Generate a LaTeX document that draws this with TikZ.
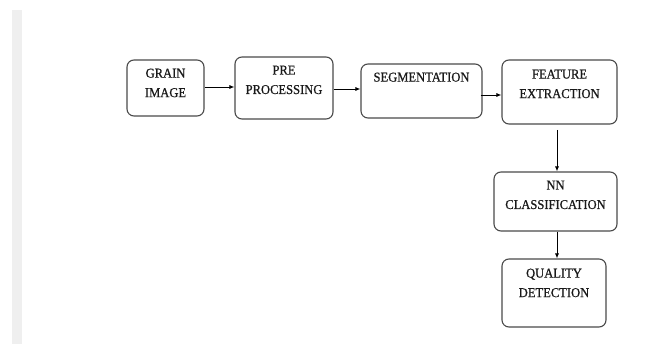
\documentclass[tikz,border=0pt]{standalone}
\usepackage{fontspec}
\newfontfamily\boxfont[FakeStretch=0.93,FakeBold=0.7]{Liberation Serif}
\usetikzlibrary{arrows.meta}
\definecolor{stripgray}{HTML}{EFEFEF}
\definecolor{boxline}{HTML}{4A4A4A}
\tikzset{
  stagebox/.style={draw=boxline, line width=1.1pt, rounded corners=7pt, inner sep=0pt},
  stagetext/.style={anchor=north, align=center, inner sep=0pt,
    font=\boxfont\fontsize{13.5}{19.5}\selectfont, text=black!90},
  flow/.style={-{Latex[length=5pt,width=4pt]}, line width=0.8pt, black}
}
\begin{document}
\begin{tikzpicture}[x=1pt,y=-1pt]
\useasboundingbox (0,0) rectangle (650,344);
\fill[stripgray] (12,10) rectangle (22,344);
% boxes
\node[stagebox, minimum width=77pt, minimum height=56pt] (gi) at (165.5,88) {};
\node[stagebox, minimum width=98pt, minimum height=62pt] (pp) at (284,88) {};
\node[stagebox, minimum width=121pt, minimum height=54pt] (sg) at (421.5,91) {};
\node[stagebox, minimum width=115pt, minimum height=64pt] (fe) at (559.5,92) {};
\node[stagebox, minimum width=123pt, minimum height=59pt] (nn) at (555.5,201.5) {};
\node[stagebox, minimum width=104pt, minimum height=68pt] (qd) at (554,293) {};
% texts
\node[stagetext] (gi-t) at ([yshift=-9pt]gi.north) {GRAIN\\IMAGE};
\node[stagetext] (pp-t) at ([yshift=-9pt]pp.north) {PRE\\PROCESSING};
\node[stagetext] (sg-t) at ([yshift=-9pt]sg.north) {SEGMENTATION};
\node[stagetext] (fe-t) at ([yshift=-10pt]fe.north) {FEATURE\\EXTRACTION};
\node[stagetext] (nn-t) at ([yshift=-9pt]nn.north) {NN\\CLASSIFICATION};
\node[stagetext] (qd-t) at ([yshift=-10pt]qd.north) {QUALITY\\DETECTION};
% connectors
\coordinate (fe-out) at (557,130);
\draw[flow] (gi.east |- 0,87) -- (pp.west |- 0,87);
\draw[flow] (pp.east |- 0,89) -- (sg.west |- 0,89);
\draw[flow] ([xshift=-2pt]sg.east |- 0,95) -- (fe.west |- 0,95);
\draw[flow] (fe-out) -- (fe-out |- nn.north);
\draw[flow] (nn.south -| 557,0) -- (qd.north -| 557,0);
\end{tikzpicture}
\end{document}
